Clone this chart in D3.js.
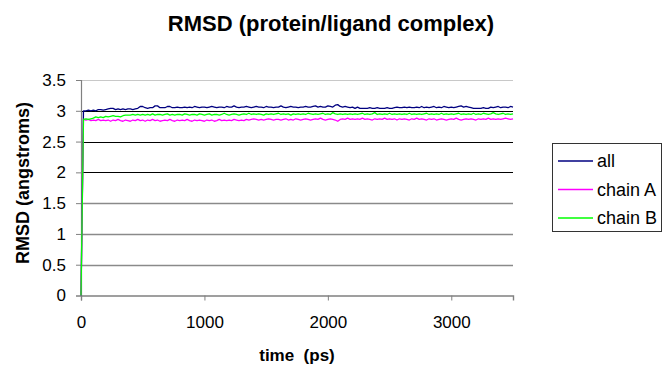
<!DOCTYPE html>
<html>
<head>
<meta charset="utf-8">
<script src="https://cdn.jsdelivr.net/npm/d3@7"></script>
<style>
  html, body { margin: 0; padding: 0; background: #fff; }
  svg { display: block; font-family: "Liberation Sans", Arial, sans-serif; }
</style>
</head>
<body>
<svg id="chart" width="662" height="365"></svg>
<script>
// Sampling interval of the trajectory frames (ps)
const timeStep = 20;
const timeMax = 3500;

// RMSD of the whole complex (angstroms)
const rmsdAll = [
  0, 3.00, 3.00, 3.01, 3.00, 3.01, 3.00, 3.02, 3.02, 3.01,
  3.02, 3.03, 3.04, 3.04, 3.02, 3.03, 3.02, 3.03, 3.02, 3.03,
  3.03, 3.02, 3.03, 3.04, 3.07, 3.07, 3.05, 3.04, 3.05, 3.05,
  3.08, 3.08, 3.05, 3.05, 3.05, 3.07, 3.07, 3.05, 3.05, 3.06,
  3.05, 3.05, 3.06, 3.05, 3.06, 3.05, 3.07, 3.06, 3.05, 3.06,
  3.06, 3.05, 3.06, 3.07, 3.06, 3.05, 3.06, 3.06, 3.05, 3.07,
  3.06, 3.06, 3.08, 3.06, 3.05, 3.06, 3.06, 3.07, 3.06, 3.05,
  3.06, 3.07, 3.06, 3.06, 3.05, 3.07, 3.06, 3.06, 3.05, 3.06,
  3.06, 3.08, 3.06, 3.05, 3.06, 3.07, 3.06, 3.06, 3.05, 3.06,
  3.06, 3.07, 3.06, 3.06, 3.07, 3.08, 3.06, 3.07, 3.06, 3.06,
  3.08, 3.07, 3.06, 3.09, 3.10, 3.07, 3.06, 3.07, 3.06, 3.05,
  3.06, 3.04, 3.06, 3.04, 3.04, 3.04, 3.04, 3.05, 3.04, 3.04,
  3.05, 3.04, 3.04, 3.04, 3.05, 3.04, 3.04, 3.05, 3.06, 3.05,
  3.05, 3.06, 3.05, 3.06, 3.05, 3.05, 3.06, 3.05, 3.07, 3.05,
  3.06, 3.05, 3.06, 3.07, 3.05, 3.06, 3.05, 3.07, 3.06, 3.05,
  3.06, 3.05, 3.06, 3.07, 3.08, 3.06, 3.07, 3.06, 3.05, 3.04,
  3.04, 3.04, 3.04, 3.05, 3.04, 3.04, 3.06, 3.05, 3.06, 3.07,
  3.05, 3.06, 3.06, 3.05, 3.07, 3.06
];

// RMSD of chain A (angstroms)
const rmsdChainA = [
  0, 2.86, 2.85, 2.86, 2.84, 2.85, 2.84, 2.86, 2.84, 2.85,
  2.84, 2.85, 2.83, 2.85, 2.84, 2.86, 2.84, 2.83, 2.85, 2.84,
  2.83, 2.85, 2.84, 2.86, 2.84, 2.85, 2.83, 2.85, 2.84, 2.86,
  2.84, 2.85, 2.83, 2.84, 2.85, 2.84, 2.86, 2.84, 2.83, 2.85,
  2.84, 2.85, 2.84, 2.86, 2.84, 2.83, 2.85, 2.84, 2.85, 2.84,
  2.83, 2.85, 2.84, 2.85, 2.83, 2.84, 2.86, 2.84, 2.85, 2.84,
  2.85, 2.84, 2.86, 2.85, 2.84, 2.85, 2.84, 2.86, 2.85, 2.86,
  2.87, 2.86, 2.85, 2.86, 2.85, 2.86, 2.87, 2.86, 2.85, 2.86,
  2.86, 2.85, 2.86, 2.87, 2.85, 2.86, 2.85, 2.87, 2.86, 2.85,
  2.86, 2.87, 2.86, 2.85, 2.86, 2.87, 2.86, 2.88, 2.86, 2.85,
  2.86, 2.87, 2.86, 2.85, 2.83, 2.86, 2.87, 2.86, 2.88, 2.86,
  2.87, 2.86, 2.87, 2.86, 2.88, 2.86, 2.87, 2.86, 2.85, 2.87,
  2.86, 2.87, 2.86, 2.88, 2.86, 2.87, 2.86, 2.87, 2.85, 2.87,
  2.86, 2.87, 2.86, 2.85, 2.87, 2.86, 2.88, 2.86, 2.87, 2.86,
  2.85, 2.87, 2.86, 2.87, 2.85, 2.86, 2.87, 2.86, 2.85, 2.86,
  2.87, 2.86, 2.88, 2.86, 2.85, 2.86, 2.87, 2.86, 2.87, 2.86,
  2.85, 2.87, 2.86, 2.87, 2.86, 2.88, 2.86, 2.87, 2.86, 2.87,
  2.86, 2.87, 2.88, 2.87, 2.86, 2.87
];

// RMSD of chain B (angstroms)
const rmsdChainB = [
  0, 2.86, 2.87, 2.86, 2.87, 2.88, 2.90, 2.89, 2.90, 2.89,
  2.91, 2.90, 2.91, 2.92, 2.91, 2.91, 2.90, 2.92, 2.93, 2.93,
  2.93, 2.94, 2.93, 2.94, 2.93, 2.94, 2.93, 2.94, 2.93, 2.95,
  2.93, 2.94, 2.94, 2.93, 2.94, 2.95, 2.93, 2.94, 2.93, 2.94,
  2.94, 2.93, 2.95, 2.94, 2.93, 2.94, 2.94, 2.93, 2.95, 2.94,
  2.93, 2.94, 2.95, 2.93, 2.94, 2.94, 2.93, 2.94, 2.96, 2.94,
  2.93, 2.94, 2.95, 2.94, 2.93, 2.94, 2.95, 2.94, 2.96, 2.94,
  2.95, 2.94, 2.95, 2.94, 2.93, 2.95, 2.94, 2.95, 2.94, 2.95,
  2.96, 2.94, 2.95, 2.94, 2.95, 2.93, 2.95, 2.94, 2.95, 2.94,
  2.95, 2.94, 2.96, 2.95, 2.94, 2.95, 2.94, 2.95, 2.96, 2.94,
  2.95, 2.94, 2.97, 2.95, 2.94, 2.95, 2.94, 2.95, 2.94, 2.95,
  2.94, 2.95, 2.94, 2.95, 2.96, 2.94, 2.95, 2.94, 2.95, 2.97,
  2.94, 2.95, 2.94, 2.95, 2.94, 2.96, 2.94, 2.95, 2.94, 2.95,
  2.94, 2.95, 2.94, 2.96, 2.94, 2.95, 2.94, 2.95, 2.94, 2.95,
  2.96, 2.94, 2.95, 2.94, 2.95, 2.94, 2.96, 2.94, 2.95, 2.94,
  2.95, 2.94, 2.95, 2.96, 2.94, 2.95, 2.94, 2.95, 2.94, 2.96,
  2.94, 2.95, 2.94, 2.96, 2.95, 2.94, 2.95, 2.97, 2.95, 2.94,
  2.95, 2.96, 2.94, 2.95, 2.94, 2.95
];

const seriesNames = ["all", "chain A", "chain B"];
const seriesColors = ["#000080", "#ff00ff", "#00ff00"];
const xTicks = [0, 1000, 2000, 3000];
const yTicks = [0, 0.5, 1, 1.5, 2, 2.5, 3, 3.5];

const titleText = "RMSD (protein/ligand complex)";
const xTitleText = "time  (ps)";
const yTitleText = "RMSD (angstroms)";

const times = d3.range(0, timeMax + 1, timeStep);
const seriesValues = [rmsdAll, rmsdChainA, rmsdChainB];

const svg = d3.select("#chart");
const plot = { left: 81, right: 513, top: 80, bottom: 295.5 };

const x = d3.scaleLinear().domain([0, timeMax]).range([plot.left, plot.right]);
const y = d3.scaleLinear().domain([0, 3.5]).range([plot.bottom, plot.top]);

// Horizontal gridlines
const gridColor = v => v === 3.5 ? "#c8c8c8" : (v >= 2 ? "#000" : "#8a8a8a");
svg.append("g").selectAll("line")
  .data(yTicks.filter(v => v > 0))
  .join("line")
  .attr("x1", plot.left).attr("x2", plot.right)
  .attr("y1", d => Math.round(y(d)) + 0.5).attr("y2", d => Math.round(y(d)) + 0.5)
  .attr("stroke", gridColor)
  .attr("stroke-width", d => (d < 2 ? 1.4 : 1));

// Y axis
const yAxis = svg.append("g")
  .attr("transform", `translate(${plot.left},0)`)
  .call(d3.axisLeft(y).tickValues(yTicks).tickSize(5).tickPadding(10)
    .tickFormat(d3.format("")));
yAxis.select(".domain").attr("stroke", "#808080").attr("stroke-width", 1.2);
yAxis.selectAll(".tick line").attr("stroke", "#808080");
yAxis.selectAll(".tick text")
  .attr("font-size", 17).attr("fill", "#000")
  .attr("font-family", "Liberation Sans, Arial, sans-serif");

// X axis
const xAxis = svg.append("g")
  .attr("transform", `translate(0,${plot.bottom})`)
  .call(d3.axisBottom(x).tickValues(xTicks).tickSize(5).tickPadding(15)
    .tickFormat(d3.format("d")));
xAxis.select(".domain").attr("stroke", "#808080").attr("stroke-width", 1.4);
xAxis.selectAll(".tick line").attr("stroke", "#808080");
xAxis.selectAll(".tick text")
  .attr("font-size", 17).attr("fill", "#000")
  .attr("font-family", "Liberation Sans, Arial, sans-serif");

// Series lines
const line = d3.line()
  .x((d, i) => x(times[i]))
  .y(d => y(d));
svg.append("g").selectAll("path")
  .data(seriesValues)
  .join("path")
  .attr("d", d => line(d))
  .attr("fill", "none")
  .attr("stroke", (d, i) => seriesColors[i])
  .attr("stroke-width", 1.3)
  .attr("stroke-linejoin", "round");

// Titles
svg.append("text")
  .attr("x", 331).attr("y", 31)
  .attr("text-anchor", "middle")
  .attr("font-size", 22).attr("font-weight", "bold")
  .text(titleText);

svg.append("text")
  .attr("x", (plot.left + plot.right) / 2).attr("y", 361)
  .attr("text-anchor", "middle")
  .attr("font-size", 17).attr("font-weight", "bold")
  .style("white-space", "pre")
  .text(xTitleText);

svg.append("text")
  .attr("transform", "translate(29,183) rotate(-90)")
  .attr("text-anchor", "middle")
  .attr("font-size", 18).attr("font-weight", "bold")
  .text(yTitleText);

// Legend
const legend = svg.append("g");
legend.append("rect")
  .attr("x", 552.5).attr("y", 143.5)
  .attr("width", 109).attr("height", 88)
  .attr("fill", "#fff").attr("stroke", "#333").attr("stroke-width", 1);
const legendY = [161, 189.5, 218];
const items = legend.selectAll("g.item")
  .data(seriesNames)
  .join("g").attr("class", "item");
items.append("line")
  .attr("x1", 558).attr("x2", 593)
  .attr("y1", (d, i) => legendY[i]).attr("y2", (d, i) => legendY[i])
  .attr("stroke", (d, i) => seriesColors[i])
  .attr("stroke-width", 1.3);
items.append("text")
  .attr("x", 597).attr("y", (d, i) => legendY[i] + 6)
  .attr("font-size", 18)
  .text(d => d);
</script>
</body>
</html>
